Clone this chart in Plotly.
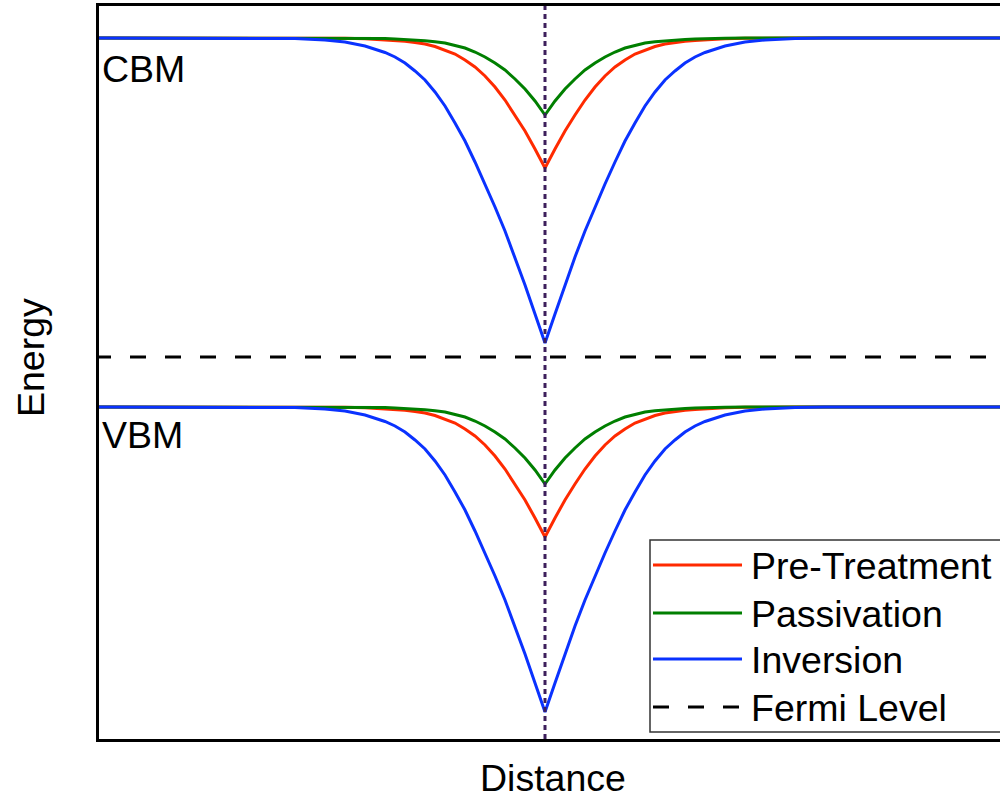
import plotly.graph_objects as go

# Band edges and Fermi level (arbitrary energy units)
EC = 3.69     # conduction band minimum far from the interface
EV = 0.00     # valence band maximum far from the interface
EF = 0.50     # Fermi level

# Distance from the interface (arbitrary units)
distance = [-4.5, -2.8, -2.5, -2.2, -2.0, -1.8, -1.6, -1.5, -1.4, -1.3, -1.2, -1.1,
            -1.0, -0.9, -0.8, -0.7, -0.6, -0.5, -0.4, -0.3, -0.2, -0.1, 0.0,
            0.1, 0.2, 0.3, 0.4, 0.5, 0.6, 0.7, 0.8, 0.9, 1.0, 1.1, 1.2, 1.3, 1.4,
            1.5, 1.6, 1.8, 2.0, 2.2, 2.5, 2.8, 4.6]

# Downward band bending for each surface condition
bend_pre = [0.0, 0.0, 0.0, 0.0, 0.003, 0.008, 0.018, 0.025, 0.033, 0.045, 0.06, 0.085,
            0.12, 0.16, 0.22, 0.29, 0.38, 0.49, 0.62, 0.77, 0.93, 1.11, 1.30,
            1.11, 0.93, 0.77, 0.62, 0.49, 0.38, 0.29, 0.22, 0.16, 0.12, 0.085, 0.06,
            0.045, 0.033, 0.025, 0.018, 0.008, 0.003, 0.0, 0.0, 0.0, 0.0]
bend_pass = [0.0, 0.0, 0.0, 0.0, 0.0, 0.002, 0.006, 0.01, 0.014, 0.02, 0.027, 0.037,
             0.05, 0.075, 0.10, 0.14, 0.19, 0.25, 0.32, 0.41, 0.51, 0.63, 0.77,
             0.63, 0.51, 0.41, 0.32, 0.25, 0.19, 0.14, 0.10, 0.075, 0.05, 0.037, 0.027,
             0.02, 0.014, 0.01, 0.006, 0.002, 0.0, 0.0, 0.0, 0.0, 0.0]
bend_inv = [0.0, 0.0, 0.005, 0.02, 0.04, 0.08, 0.145, 0.19, 0.25, 0.33, 0.42, 0.54,
            0.68, 0.85, 1.03, 1.24, 1.46, 1.69, 1.93, 2.19, 2.47, 2.76, 3.05,
            2.76, 2.47, 2.19, 1.93, 1.69, 1.46, 1.24, 1.03, 0.85, 0.68, 0.54, 0.42,
            0.33, 0.25, 0.19, 0.145, 0.08, 0.04, 0.02, 0.005, 0.0, 0.0]

series_names = ["Pre-Treatment", "Passivation", "Inversion"]
series_colors = ["#ff2a00", "#007f00", "#0a32ff"]
series_bends = [bend_pre, bend_pass, bend_inv]

FONT = "Liberation Sans, Arial, sans-serif"
FONT_SIZE = 37.5
X_RANGE = [-4.46, 4.55]
Y_RANGE = [-3.32, 4.01]

fig = go.Figure()

for name, color, bend in zip(series_names, series_colors, series_bends):
    cbm = [EC - b for b in bend]
    vbm = [EV - b for b in bend]
    for band, vals in (("CBM", cbm), ("VBM", vbm)):
        fig.add_trace(go.Scatter(
            x=distance, y=vals, mode="lines", name=name, legendgroup=name,
            showlegend=False, line=dict(color=color, width=3),
            hovertemplate=f"{name} {band}<br>E=%{{y:.2f}}<extra></extra>",
        ))

# Fermi level
fig.add_trace(go.Scatter(
    x=[distance[0], distance[-1]], y=[EF, EF], mode="lines", name="Fermi Level",
    showlegend=False, line=dict(color="black", width=3, dash="16px,19px"),
))

# Interface marker
fig.add_shape(type="line", xref="x", yref="paper", x0=0, x1=0, y0=0, y1=1,
              line=dict(color="#3d1f5c", width=3, dash="5px,4px"))

# Plot-area geometry in pixels, used to place the key and labels
L, T, B, W = 99, 6, 739, 901
H = B - T


def px(xp):
    return (xp - L) / W


def py(yp):
    return (B - yp) / H


# Key box
fig.add_shape(type="rect", xref="paper", yref="paper",
              x0=px(650), x1=px(1012), y0=py(732), y1=py(540),
              line=dict(color="#333333", width=1.5), fillcolor="white", layer="above")

key_rows = [565, 613, 659, 707]
key_labels = series_names + ["Fermi Level"]
key_styles = [dict(color=c, width=3) for c in series_colors] + \
             [dict(color="black", width=3, dash="16px,19px")]
for yrow, label, style in zip(key_rows, key_labels, key_styles):
    fig.add_shape(type="line", xref="paper", yref="paper",
                  x0=px(653), x1=px(742), y0=py(yrow), y1=py(yrow), line=style,
                  layer="above")
    fig.add_annotation(x=px(749), y=py(yrow + 1), xref="paper", yref="paper",
                       text=label, showarrow=False, xanchor="left", yanchor="middle",
                       font=dict(family=FONT, size=FONT_SIZE, color="black"))

# Band labels
fig.add_annotation(x=px(100), y=py(69), xref="paper", yref="paper", text="CBM",
                   showarrow=False, xanchor="left", yanchor="middle",
                   font=dict(family=FONT, size=FONT_SIZE, color="black"))
fig.add_annotation(x=px(100), y=py(435), xref="paper", yref="paper", text="VBM",
                   showarrow=False, xanchor="left", yanchor="middle",
                   font=dict(family=FONT, size=FONT_SIZE, color="black"))

# Axis titles
fig.add_annotation(x=px(553), y=py(778), xref="paper", yref="paper", text="Distance",
                   showarrow=False, xanchor="center", yanchor="middle",
                   font=dict(family=FONT, size=FONT_SIZE, color="black"))
fig.add_annotation(x=px(31), y=py(358), xref="paper", yref="paper", text="Energy",
                   showarrow=False, xanchor="center", yanchor="middle", textangle=-90,
                   font=dict(family=FONT, size=FONT_SIZE, color="black"))

fig.update_layout(
    width=1000, height=800,
    margin=dict(l=L, r=1000 - L - W, t=T, b=800 - B, autoexpand=False),
    paper_bgcolor="white", plot_bgcolor="white",
    showlegend=False,
    xaxis=dict(range=X_RANGE, showline=True, linecolor="black", linewidth=2.5,
               mirror=True, showticklabels=False, ticks="", showgrid=False,
               zeroline=False, fixedrange=True),
    yaxis=dict(range=Y_RANGE, showline=True, linecolor="black", linewidth=2.5,
               mirror=False, showticklabels=False, ticks="", showgrid=False,
               zeroline=False, fixedrange=True),
)

fig.write_html("out.html")
